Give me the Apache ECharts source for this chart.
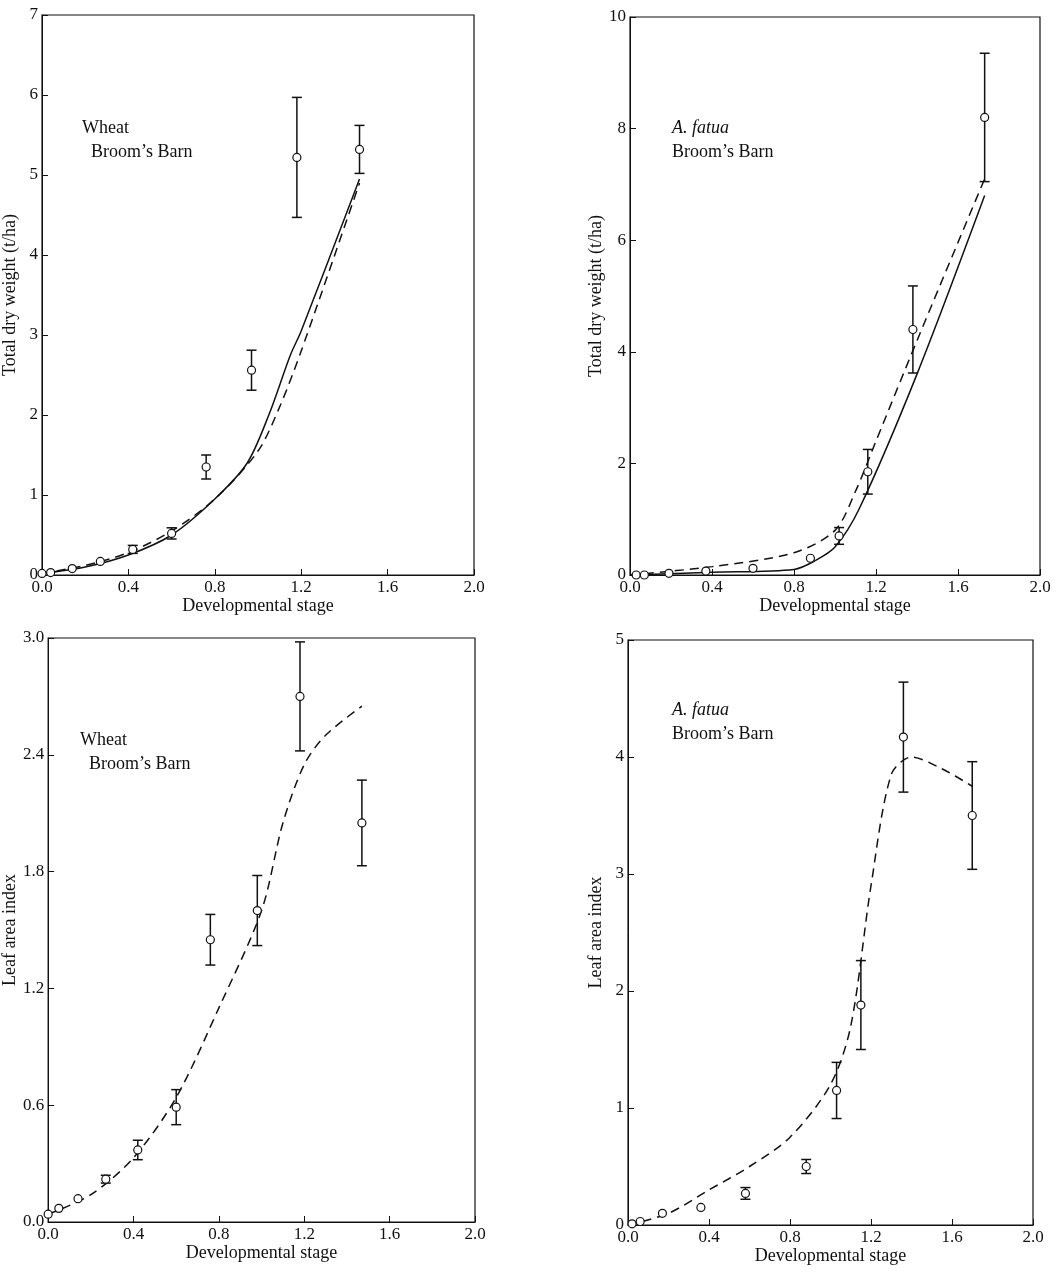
<!DOCTYPE html>
<html><head><meta charset="utf-8"/>
<script src="https://cdn.jsdelivr.net/npm/echarts@6/dist/echarts.min.js"></script>
<style>body{margin:0;background:#fff}</style></head>
<body><div id="main" style="width:1057px;height:1280px;"></div>
<script>
// panel 1: wheat dry weight
const wdwPts = [[0.0,0.02],[0.04,0.03],[0.14,0.08],[0.27,0.17],[0.42,0.32],[0.6,0.52],[0.76,1.35],[0.97,2.56],[1.18,5.22],[1.47,5.32]]
const wdwErr = [0,0,0,0,0.05,0.07,0.15,0.25,0.75,0.3]
const wdwSolid = [[0,0.02],[0.2,0.1],[0.4,0.25],[0.6,0.5],[0.8,0.95],[0.95,1.4],[1.05,2.0],[1.15,2.75],[1.2,3.05],[1.47,4.95]]
const wdwDash = [[0,0.02],[0.2,0.12],[0.4,0.28],[0.6,0.55],[0.8,0.95],[1.0,1.55],[1.1,2.1],[1.2,2.8],[1.47,4.9]]
// panel 2: A. fatua dry weight
const adwPts = [[0.03,0],[0.07,0],[0.19,0.03],[0.37,0.07],[0.6,0.12],[0.88,0.3],[1.02,0.7],[1.16,1.85],[1.38,4.4],[1.73,8.2]]
const adwErr = [0,0,0,0,0,0,0.15,0.4,0.78,1.15]
const adwSolid = [[0,0],[0.4,0.05],[0.8,0.1],[0.9,0.25],[1.0,0.5],[1.12,1.2],[1.4,3.6],[1.73,6.8]]
const adwDash = [[0,0],[0.4,0.15],[0.8,0.4],[1.0,0.8],[1.1,1.5],[1.2,2.4],[1.4,4.2],[1.73,7.1]]
// panel 3: wheat LAI
const wlPts = [[0.0,0.04],[0.05,0.07],[0.14,0.12],[0.27,0.22],[0.42,0.37],[0.6,0.59],[0.76,1.45],[0.98,1.6],[1.18,2.7],[1.47,2.05]]
const wlErr = [0,0,0,0.02,0.05,0.09,0.13,0.18,0.28,0.22]
const wlDash = [[0,0.04],[0.2,0.14],[0.4,0.33],[0.6,0.64],[0.8,1.1],[1.0,1.6],[1.1,2.05],[1.2,2.35],[1.3,2.5],[1.47,2.65]]
// panel 4: A. fatua LAI
const alPts = [[0.02,0.01],[0.06,0.03],[0.17,0.1],[0.36,0.15],[0.58,0.27],[0.88,0.5],[1.03,1.15],[1.15,1.88],[1.36,4.17],[1.7,3.5]]
const alErr = [0,0,0,0,0.05,0.06,0.24,0.38,0.47,0.46]
const alDash = [[0,0],[0.2,0.1],[0.4,0.3],[0.6,0.5],[0.8,0.75],[1.0,1.2],[1.1,1.7],[1.2,2.9],[1.3,3.85],[1.4,4.0],[1.55,3.9],[1.7,3.75]]

const xTicks = ['0.0','0.4','0.8','1.2','1.6','2.0']
const F = 'Liberation Serif'
const grids = [
  {left:37, top:15, width:437, height:560},
  {left:630, top:17, width:410, height:558},
  {left:40, top:638, width:435, height:584},
  {left:628, top:640, width:405, height:585}
]
const yCfg = [
  {max:7, interval:1, name:'Total dry weight (t/ha)', fmt:v=>String(v)},
  {max:10, interval:2, name:'Total dry weight (t/ha)', fmt:v=>String(v)},
  {max:3, interval:0.6, name:'Leaf area index', fmt:v=>v.toFixed(1)},
  {max:5, interval:1, name:'Leaf area index', fmt:v=>String(v)}
]
const xAxis = grids.map((g,i)=>({gridIndex:i, type:'value', min:0, max:2, interval:0.4,
  name:'Developmental stage', nameLocation:'middle', nameGap:21,
  nameTextStyle:{fontFamily:F, fontSize:18, color:'#111'},
  axisLine:{lineStyle:{color:'#111'}}, axisTick:{inside:true, length:6, lineStyle:{color:'#111'}},
  splitLine:{show:false}, axisLabel:{fontFamily:F, fontSize:17, color:'#111', margin:4,
  formatter:v=>xTicks[Math.round(v/0.4)]}}))
const yAxis = yCfg.map((c,i)=>({gridIndex:i, type:'value', min:0, max:c.max, interval:c.interval,
  name:c.name, nameLocation:'middle', nameGap:23,
  nameTextStyle:{fontFamily:F, fontSize:18, color:'#111'},
  axisLine:{lineStyle:{color:'#111'}}, axisTick:{inside:true, length:6, lineStyle:{color:'#111'}},
  splitLine:{show:false}, axisLabel:{fontFamily:F, fontSize:17, color:'#111', margin:4, formatter:c.fmt}}))

const series = []
function line(i, data, dashed){
  series.push({type:'line', xAxisIndex:i, yAxisIndex:i, data, smooth:0.3, symbol:'none',
    lineStyle:{color:'#111', width:1.5, type: dashed ? [9,6] : 'solid'}, z:2})
}
function pts(i, data, err){
  series.push({type:'custom', xAxisIndex:i, yAxisIndex:i,
    data:data.map((p,k)=>[p[0],p[1],err[k]]),
    renderItem:(params, api)=>{
      const x=api.value(0), y=api.value(1), e=api.value(2)
      const c=api.coord([x,y]), hi=api.coord([x,y+e]), lo=api.coord([x,y-e])
      const ch=[]
      if(e>0){
        ch.push({type:'line', shape:{x1:c[0],y1:hi[1],x2:c[0],y2:lo[1]}, style:{stroke:'#111',lineWidth:1.5}})
        ch.push({type:'line', shape:{x1:c[0]-5,y1:hi[1],x2:c[0]+5,y2:hi[1]}, style:{stroke:'#111',lineWidth:1.5}})
        ch.push({type:'line', shape:{x1:c[0]-5,y1:lo[1],x2:c[0]+5,y2:lo[1]}, style:{stroke:'#111',lineWidth:1.5}})
      }
      ch.push({type:'circle', shape:{cx:c[0],cy:c[1],r:4}, style:{fill:'#fff',stroke:'#111',lineWidth:1.2}})
      return {type:'group', children:ch}
    }, z:3})
}
line(0,wdwSolid,false); line(0,wdwDash,true); pts(0,wdwPts,wdwErr)
line(1,adwSolid,false); line(1,adwDash,true); pts(1,adwPts,adwErr)
line(2,wlDash,true); pts(2,wlPts,wlErr)
line(3,alDash,true); pts(3,alPts,alErr)

const labelStyle = {fontFamily:F, fontSize:18, fill:'#111', lineHeight:24,
  rich:{i:{fontFamily:F, fontSize:18, fontStyle:'italic', lineHeight:24}}}
const graphic = [
  {type:'text', left:82, top:116, style:Object.assign({text:'Wheat\n  Broom\u2019s Barn'}, labelStyle)},
  {type:'text', left:672, top:116, style:Object.assign({text:'{i|A. fatua}\nBroom\u2019s Barn'}, labelStyle)},
  {type:'text', left:80, top:728, style:Object.assign({text:'Wheat\n  Broom\u2019s Barn'}, labelStyle)},
  {type:'text', left:672, top:698, style:Object.assign({text:'{i|A. fatua}\nBroom\u2019s Barn'}, labelStyle)}
]

const chart = echarts.init(document.getElementById('main'))
chart.setOption({
  animation:false,
  grid:grids.map(g=>Object.assign({show:true, borderColor:'#111', borderWidth:1.2, backgroundColor:'transparent'}, g)),
  xAxis, yAxis, series, graphic
})
</script></body></html>
